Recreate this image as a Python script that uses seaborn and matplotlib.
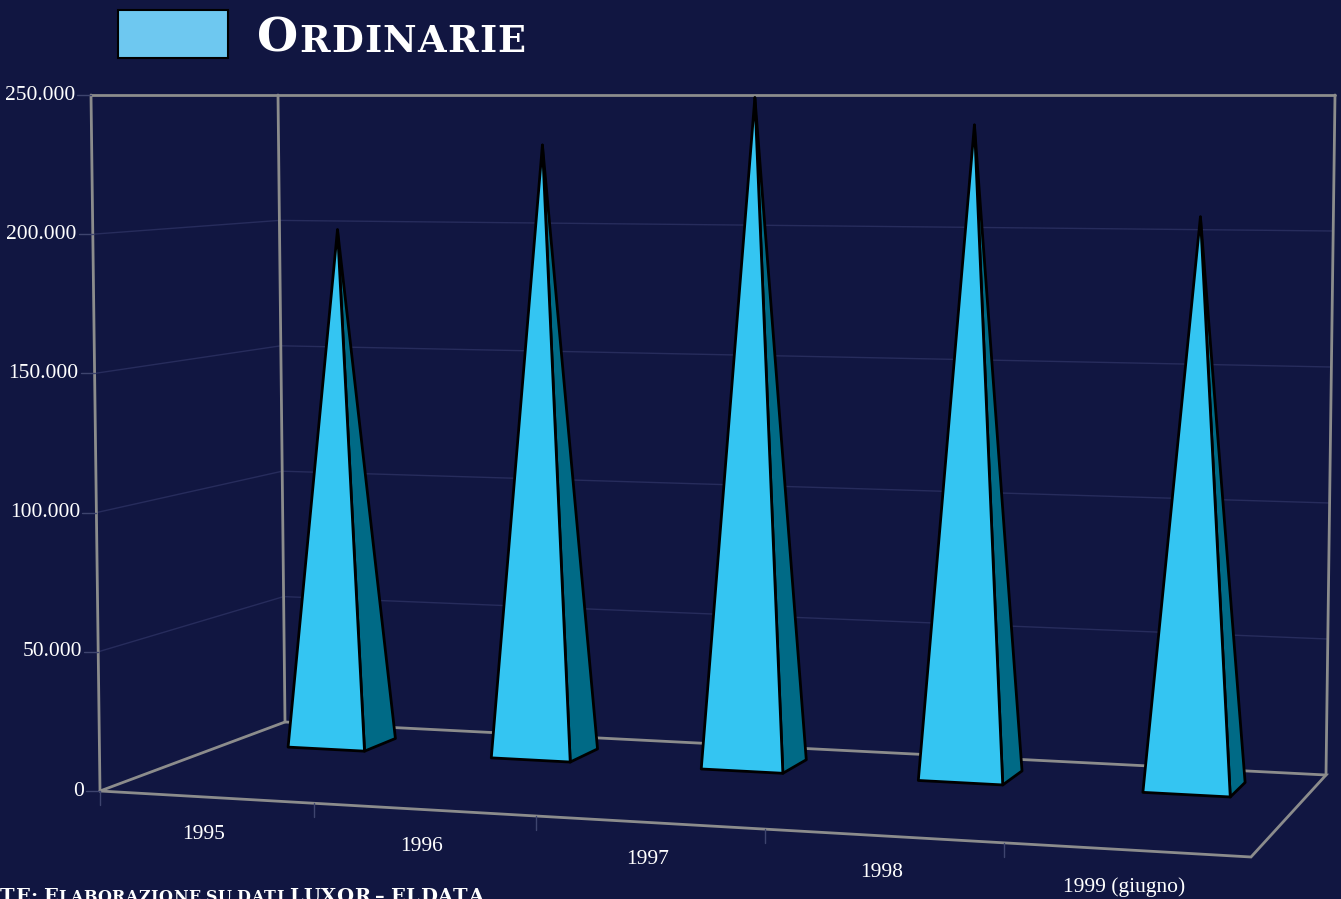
"""
Pyramid chart "Ordinarie" 1995-1999, drawn as a pseudo-3D PowerPoint-style chart.
"""
import numpy as np
import matplotlib
matplotlib.use("Agg")
import matplotlib.pyplot as plt
import seaborn as sns
from matplotlib.patches import Polygon, Rectangle

# --- Data ---
categories = ["1995", "1996", "1997", "1998", "1999 (giugno)"]
values = [198000, 231000, 249000, 239000, 206000]
y_ticks = [0, 50000, 100000, 150000, 200000, 250000]
y_tick_labels = ["0", "50.000", "100.000", "150.000", "200.000", "250.000"]
series_name = "Ordinarie"
source_note = "FONTE: Elaborazione su dati LUXOR \u2013 ELDATA"

# --- Style ---
BG = "#111641"
FRONT = "#34C5F2"
SIDE = "#006A86"
SWATCH = "#6EC8F0"
EDGE_GREY = "#8C8C8C"
GRID = "#272C5C"
VMAX = 250000

# plot box (pixel space): floor corners for (u, d) = (0,0), (1,0), (1,1), (0,1)
FLOOR = [(100, 791), (1251, 857), (1326, 775), (285, 722)]
TOP_DX = [-9, 9, 9, -7]
TOP_Y = 95
PYR_HALF = 0.19
D_FRONT, D_BACK = 0.66, 0.85


def homography(dst):
    src = [(0, 0), (1, 0), (1, 1), (0, 1)]
    A, b = [], []
    for (x, y), (X, Y) in zip(src, dst):
        A.append([x, y, 1, 0, 0, 0, -X * x, -X * y]); b.append(X)
        A.append([0, 0, 0, x, y, 1, -Y * x, -Y * y]); b.append(Y)
    h = np.linalg.solve(np.array(A, float), np.array(b, float))
    return np.append(h, 1).reshape(3, 3)


H = homography(FLOOR)


def proj(u, d, v):
    """Map category position u, depth d and value v to the picture."""
    p = H @ np.array([u, d, 1.0])
    bx, by = p[0] / p[2], p[1] / p[2]
    dx = (TOP_DX[0] * (1 - u) * (1 - d) + TOP_DX[1] * u * (1 - d)
          + TOP_DX[2] * u * d + TOP_DX[3] * (1 - u) * d)
    f = v / VMAX
    return bx + dx * f, by + (TOP_Y - by) * f


def small_caps(ax, x, y, text, big, small, renderer, tracking=0.0, **kw):
    cx = x
    for ch in text:
        size = small if ch.islower() else big
        if ch == " ":
            cx += size * 0.3 + tracking
            continue
        t = ax.text(cx, y, ch.upper(), fontsize=size, ha="left", va="baseline", **kw)
        cx += t.get_window_extent(renderer).width + tracking
    return cx - x


sns.set_theme(style="dark", rc={"axes.facecolor": BG, "figure.facecolor": BG})
plt.rcParams["font.family"] = ["Liberation Serif", "DejaVu Serif"]

fig = plt.figure(figsize=(13.41, 8.99), dpi=100)
ax = fig.add_axes([0, 0, 1, 1])
ax.set_xlim(0, 1341)
ax.set_ylim(899, 0)
ax.axis("off")
renderer = fig.canvas.get_renderer()

n = len(categories)

# gridlines on the left and back walls
for v in y_ticks[1:-1]:
    pts = [proj(0, 0, v), proj(0, 1, v), proj(1, 1, v)]
    ax.plot(*zip(*pts), color=GRID, lw=1, zorder=1)

# box edges
edges = [
    [(0, 0, 0), (0, 0, VMAX)],
    [(0, 1, 0), (0, 1, VMAX)],
    [(1, 1, 0), (1, 1, VMAX)],
    [(0, 0, VMAX), (0, 1, VMAX), (1, 1, VMAX)],
    [(0, 0, 0), (0, 1, 0), (1, 1, 0), (1, 0, 0), (0, 0, 0)],
]
for e in edges:
    pts = [proj(*p) for p in e]
    ax.plot(*zip(*pts), color=EDGE_GREY, lw=2, zorder=2, solid_joinstyle="miter")

# value axis ticks and labels
for v, lab in zip(y_ticks, y_tick_labels):
    x0, y0 = proj(0, 0, v)
    ax.plot([x0 - 14, x0], [y0, y0], color="#3E446E", lw=1, zorder=2)
    ax.text(x0 - 16, y0, lab, color="white", fontsize=15.5, ha="right", va="center")

# category ticks and labels
for i in range(n):
    x0, y0 = proj(i / n, 0, 0)
    ax.plot([x0, x0], [y0, y0 + 14], color="#3E446E", lw=1, zorder=2)
for i, lab in enumerate(categories):
    x0, y0 = proj((i + 0.5) / n, 0, 0)
    ax.text(x0 - 2, y0 + 37, lab, color="white", fontsize=15.5, ha="center", va="center")

# pyramids
for i, v in enumerate(values):
    c = (i + 0.5) / n
    w = PYR_HALF / n
    apex = proj(c, (D_FRONT + D_BACK) / 2, v)
    fl, fr = proj(c - w, D_FRONT, 0), proj(c + w, D_FRONT, 0)
    br = proj(c + w, D_BACK, 0)
    ax.add_patch(Polygon([fr, br, apex], closed=True, fc=SIDE, ec="black", lw=2,
                         joinstyle="round", zorder=5))
    ax.add_patch(Polygon([fl, fr, apex], closed=True, fc=FRONT, ec="black", lw=2,
                         joinstyle="round", zorder=6))

# legend
ax.add_patch(Rectangle((118, 10), 110, 48, fc=SWATCH, ec="black", lw=1.5, zorder=5))
small_caps(ax, 257, 52, series_name, 34, 26.5, renderer, tracking=1.2,
           color="white", fontweight="bold", family=["DejaVu Serif"])

# source note (cut at the bottom edge, as in the original slide)
pre = 0.0
for ch in "FON":
    t = ax.text(0, 0, ch, fontsize=14, fontweight="bold", family=["DejaVu Serif"])
    pre += t.get_window_extent(renderer).width + 0.5
    t.remove()
small_caps(ax, -pre, 902, source_note, 14, 11.5, renderer, tracking=0.5,
           color="white", fontweight="bold", family=["DejaVu Serif"])

fig.savefig("out.png", dpi=100, facecolor=BG)
